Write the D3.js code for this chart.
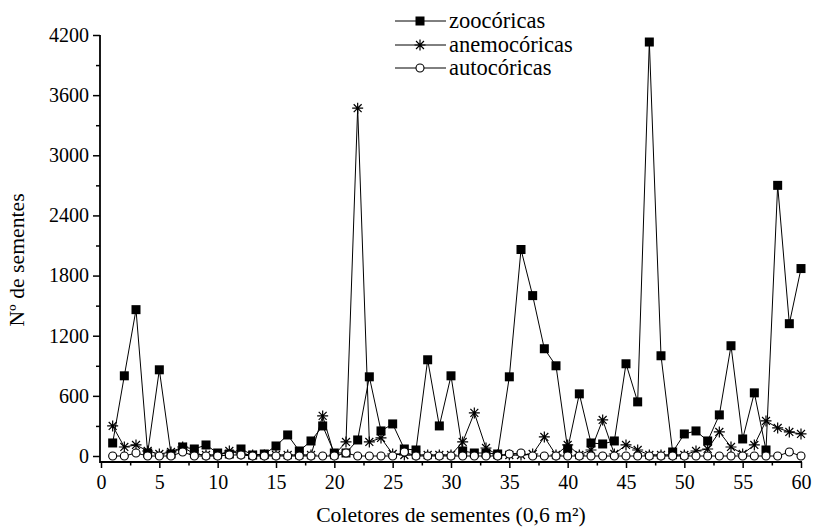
<!DOCTYPE html>
<html><head><meta charset="utf-8">
<script src="https://cdn.jsdelivr.net/npm/d3@7"></script>
<style>
body{margin:0;background:#fff;}
svg{display:block;font-family:"Liberation Serif","Times New Roman",serif;}
</style></head>
<body><svg id="c" width="815" height="529"></svg>
<script>
const collectors = d3.range(1, 61);
const zoocoricas = [130,800,1460,30,860,20,90,70,110,30, 20,70,10,20,100,210,50,150,300,30, 30,160,790,250,320,70,60,960,300,800, 50,30,30,20,790,2060,1600,1070,900,70, 620,130,120,150,920,540,4130,1000,40,220, 250,150,410,1100,170,630,60,2700,1320,1870];
const anemocoricas = [300,90,110,50,20,40,90,20,10,10, 50,20,10,10,10,10,10,10,400,10, 140,3470,140,180,20,10,10,10,10,10, 140,430,80,10,10,10,20,190,10,110, 10,60,360,20,110,60,10,10,10,10, 50,70,240,90,20,110,350,280,240,220];
const autocoricas = [0,0,30,0,0,0,40,0,0,0, 10,10,0,0,0,0,0,0,0,0, 30,0,0,0,0,40,0,0,0,0, 0,0,0,0,20,30,0,0,0,0, 0,0,0,0,0,0,0,0,0,0, 0,0,0,0,0,0,0,0,40,0];
const seriesNames = ["zoocóricas","anemocóricas","autocóricas"];
const seriesMarkers = ["square","star","circle"];
const xTicks = [0,5,10,15,20,25,30,35,40,45,50,55,60];
const yTicks = [0,600,1200,1800,2400,3000,3600,4200];
const xTitle = "Coletores de sementes (0,6 m²)";
const yTitle = "Nº de sementes";

const svg = d3.select("#c");
const x = d3.scaleLinear().domain([0,60]).range([101,801]);
const y = d3.scaleLinear().domain([0,4200]).range([456,35]);
const FS = 20, TFS = 21.7, LFS = 22.5;

// axes
const axisY = 462;
const gx = svg.append("g").attr("transform",`translate(0,${axisY})`);
gx.call(d3.axisBottom(x).tickValues(xTicks).tickSize(6).tickFormat(d3.format("d")))
gx.select(".domain").remove();
gx.selectAll("text").attr("font-size",FS).attr("font-family","Liberation Serif").attr("dy","0.9em").attr("fill","#000");
gx.selectAll("line").attr("stroke","#000").attr("stroke-width",1.5);
const gxm = svg.append("g").attr("transform",`translate(0,${axisY})`);
gxm.call(d3.axisBottom(x).tickValues(d3.range(2.5,60,5)).tickSize(3.5).tickFormat(""));
gxm.select(".domain").remove();
gxm.selectAll("line").attr("stroke","#000").attr("stroke-width",1.5);
svg.append("line").attr("x1",x(0)-1).attr("x2",x(60)+1).attr("y1",axisY).attr("y2",axisY).attr("stroke","#000").attr("stroke-width",1.8);

const axisX = 100;
const gy = svg.append("g").attr("transform",`translate(${axisX},0)`);
gy.call(d3.axisLeft(y).tickValues(yTicks).tickSize(7).tickPadding(4).tickFormat(d3.format("d")));
gy.select(".domain").remove();
gy.selectAll("text").attr("font-size",FS).attr("font-family","Liberation Serif").attr("fill","#000");
gy.selectAll("line").attr("stroke","#000").attr("stroke-width",1.5);
const gym = svg.append("g").attr("transform",`translate(${axisX},0)`);
gym.call(d3.axisLeft(y).tickValues(d3.range(300,4200,600)).tickSize(4).tickFormat(""));
gym.select(".domain").remove();
gym.selectAll("line").attr("stroke","#000").attr("stroke-width",1.5);
svg.append("line").attr("x1",axisX).attr("x2",axisX).attr("y1",axisY+1).attr("y2",y(4200)).attr("stroke","#000").attr("stroke-width",1.8);

// titles
svg.append("text").attr("x",451).attr("y",522).attr("text-anchor","middle").attr("font-size",TFS).attr("fill","#000").text(xTitle);
svg.append("text").attr("transform","translate(24,260) rotate(-90)").attr("text-anchor","middle").attr("font-size",TFS).attr("fill","#000").text(yTitle);

function drawMarker(g, type, cx, cy){
  if(type==="square"){
    g.append("rect").attr("x",cx-4.5).attr("y",cy-4.5).attr("width",9).attr("height",9).attr("fill","#000");
  } else if(type==="circle"){
    g.append("circle").attr("cx",cx).attr("cy",cy).attr("r",4).attr("fill","#fff").attr("stroke","#000").attr("stroke-width",1.1);
  } else {
    const r=5.5;
    const p = `M${cx-r},${cy}L${cx+r},${cy}M${cx},${cy-r}L${cx},${cy+r}M${cx-r*0.72},${cy-r*0.72}L${cx+r*0.72},${cy+r*0.72}M${cx-r*0.72},${cy+r*0.72}L${cx+r*0.72},${cy-r*0.72}`;
    g.append("path").attr("d",p).attr("stroke","#000").attr("stroke-width",1.2).attr("fill","none");
  }
}

const allSeries = [zoocoricas, anemocoricas, autocoricas];
const line = d3.line().x((d,i)=>x(collectors[i])).y(d=>y(d));
allSeries.forEach((vals,k)=>{
  const g = svg.append("g");
  g.append("path").datum(vals).attr("d",line).attr("fill","none").attr("stroke","#000").attr("stroke-width",1);
  vals.forEach((v,i)=>drawMarker(g, seriesMarkers[k], x(collectors[i]), y(v)));
});

// legend
const legY = [21,45,68];
seriesNames.forEach((name,k)=>{
  const g = svg.append("g");
  g.append("line").attr("x1",395).attr("x2",446).attr("y1",legY[k]).attr("y2",legY[k]).attr("stroke","#000").attr("stroke-width",1);
  drawMarker(g, seriesMarkers[k], 420, legY[k]);
  g.append("text").attr("x",449).attr("y",legY[k]).attr("dy","0.33em").attr("font-size",LFS).attr("fill","#000").text(name);
});
</script></body></html>
